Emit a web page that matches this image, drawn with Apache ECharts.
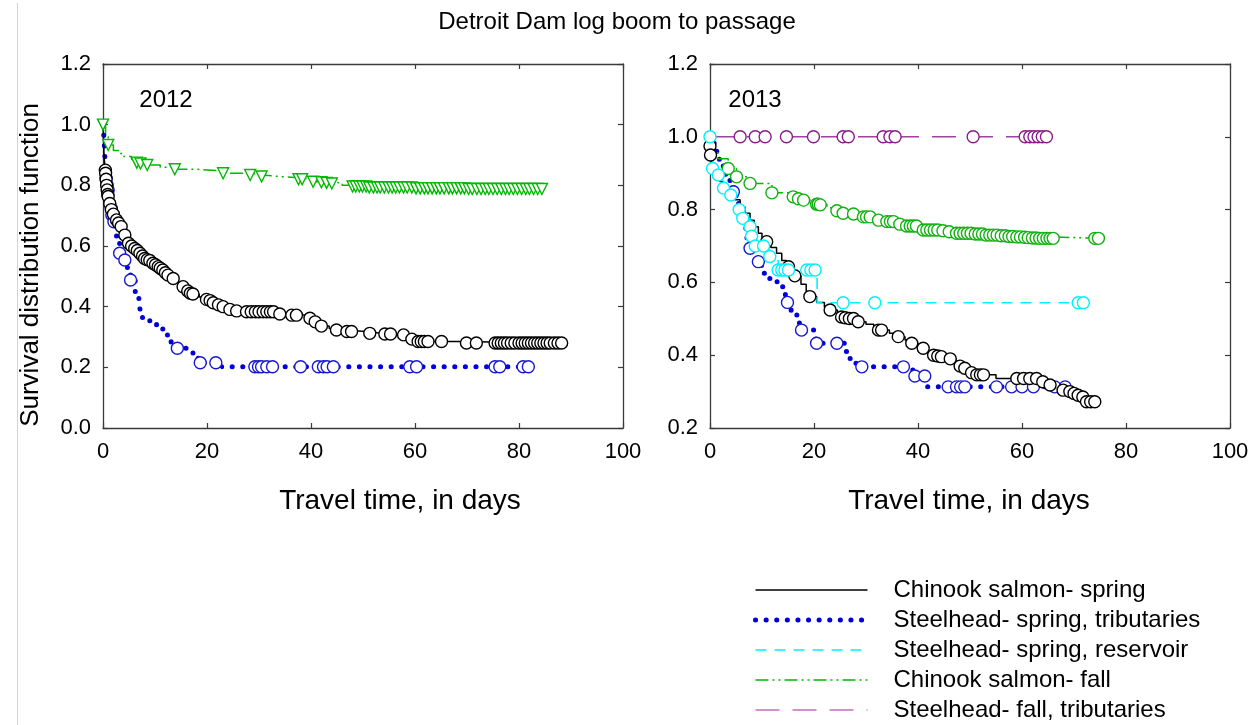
<!DOCTYPE html>
<html>
<head>
<meta charset="utf-8">
<script src="https://cdn.jsdelivr.net/npm/echarts@6/dist/echarts.min.js"></script>
<style>
html,body{margin:0;padding:0;background:#fff;}
#c{width:1259px;height:725px;}
</style>
</head>
<body>
<div id="c"></div>
<script>
// ---------- tick settings ----------
const xTicks = [0, 20, 40, 60, 80, 100];
const yTicks2012 = [0.0, 0.2, 0.4, 0.6, 0.8, 1.0, 1.2];
const yTicks2013 = [0.2, 0.4, 0.6, 0.8, 1.0, 1.2];

const seriesNames = [
  'Chinook salmon- spring',
  'Steelhead- spring, tributaries',
  'Steelhead- spring, reservoir',
  'Chinook salmon- fall',
  'Steelhead- fall, tributaries'
];

// ---------- 2012 ----------
const chs12Curve = [[0,1.0],[0.2,0.9],[0.4,0.85],[0.6,0.82],[0.8,0.79],[1.0,0.763],[1.3,0.74],[1.6,0.72],[2.2,0.70],[2.6,0.686],[3.1,0.675],[3.5,0.664],[4.0,0.645],[4.4,0.63],[4.9,0.609],[5.5,0.60],[6.1,0.592],[6.6,0.585],[7.1,0.576],[7.6,0.567],[8.0,0.559],[9.0,0.552],[9.6,0.543],[10.6,0.532],[11.5,0.521],[12.5,0.504],[13.5,0.493],[14.5,0.48],[15.4,0.466],[16.3,0.452],[17.3,0.442],[18.5,0.432],[19.6,0.424],[21.2,0.413],[22.2,0.406],[23.1,0.40],[24.4,0.391],[25.7,0.386],[27.0,0.383],[33.5,0.376],[35.5,0.372],[39.5,0.362],[40.8,0.35],[42.0,0.336],[43.5,0.328],[44.9,0.323],[46.5,0.318],[50.5,0.312],[53.5,0.31],[56.5,0.307],[59.0,0.293],[60.3,0.285],[68.0,0.28],[88.2,0.28]];
const chs12Cens = [[0.45,0.85],[0.5,0.84],[0.6,0.82],[0.7,0.80],[0.8,0.785],[0.9,0.77],[1.0,0.763],[1.3,0.74],[1.6,0.72],[2.0,0.705],[2.6,0.686],[3.0,0.676],[3.5,0.664],[4.2,0.636],[4.9,0.609],[5.5,0.60],[6.1,0.592],[6.6,0.585],[7.1,0.576],[7.6,0.567],[8.0,0.559],[8.5,0.555],[9.0,0.552],[9.6,0.543],[10.1,0.538],[10.6,0.532],[11.0,0.527],[11.5,0.521],[12.0,0.512],[12.5,0.504],[13.5,0.493],[15.4,0.466],[16.3,0.452],[16.8,0.444],[17.3,0.442],[19.9,0.424],[20.6,0.42],[21.2,0.413],[22.2,0.406],[23.1,0.40],[24.4,0.391],[25.7,0.386],[27.6,0.383],[28.5,0.383],[29.3,0.383],[30.0,0.383],[30.8,0.383],[31.5,0.383],[32.2,0.383],[32.8,0.383],[34.0,0.376],[36.3,0.372],[37.2,0.372],[39.8,0.362],[40.8,0.35],[42.0,0.336],[44.9,0.323],[46.9,0.318],[47.8,0.318],[51.3,0.312],[54.2,0.31],[55.3,0.31],[57.8,0.307],[59.4,0.293],[60.6,0.285],[61.2,0.285],[61.8,0.285],[62.5,0.285],[65.1,0.285],[69.9,0.28],[71.8,0.28],[75.4,0.28],[76.0,0.28],[76.6,0.28],[77.2,0.28],[77.8,0.28],[78.5,0.28],[79.2,0.28],[80.0,0.28],[80.6,0.28],[81.2,0.28],[81.8,0.28],[82.4,0.28],[83.0,0.28],[83.6,0.28],[84.2,0.28],[84.8,0.28],[85.4,0.28],[86.0,0.28],[86.8,0.28],[87.5,0.28],[88.2,0.28]];

const sst12Curve = [[0,1.0],[0.2,0.95],[0.4,0.88],[0.6,0.823],[0.8,0.80],[1.0,0.785],[1.3,0.75],[1.6,0.724],[1.7,0.702],[2.1,0.68],[2.6,0.625],[3.2,0.576],[4.2,0.554],[4.7,0.52],[5.3,0.488],[6.2,0.44],[6.9,0.413],[7.2,0.383],[7.6,0.358],[9.0,0.347],[10.3,0.332],[11.5,0.318],[12.4,0.296],[13.1,0.279],[14.3,0.263],[16.0,0.259],[17.3,0.246],[18.3,0.215],[22.8,0.202],[81.8,0.202]];
const sst12Cens = [[0.6,0.823],[0.8,0.80],[1.0,0.785],[1.6,0.724],[1.7,0.702],[2.1,0.68],[3.2,0.576],[4.2,0.554],[5.3,0.488],[14.3,0.263],[18.7,0.215],[21.7,0.215],[29.2,0.202],[29.9,0.202],[30.5,0.202],[31.5,0.202],[32.6,0.202],[38.0,0.202],[41.4,0.202],[42.4,0.202],[43.1,0.202],[44.3,0.202],[59.0,0.202],[60.3,0.202],[75.4,0.202],[76.3,0.202],[80.8,0.202],[81.8,0.202]];

const chf12Curve = [[0,1.0],[0.5,0.96],[1.0,0.933],[2,0.915],[3,0.905],[4,0.895],[5.5,0.885],[6.5,0.875],[8.5,0.867],[11,0.86],[13.8,0.853],[18,0.848],[23.1,0.84],[28.3,0.834],[30.5,0.829],[34,0.825],[37.6,0.82],[40.4,0.812],[43,0.808],[46,0.80],[48,0.796],[55,0.793],[65,0.79],[84.4,0.788]];
const chf12Cens = [[0,1.0],[1.0,0.933],[6.5,0.875],[7.2,0.872],[8.5,0.867],[13.8,0.853],[23.1,0.84],[28.3,0.834],[30.5,0.829],[37.6,0.82],[38.3,0.82],[40.4,0.812],[42.0,0.81],[43.0,0.808],[44.0,0.806],[48.0,0.796],[48.6,0.796],[49.3,0.796],[49.9,0.796],[50.6,0.796],[51.2,0.793],[52.0,0.793],[52.7,0.793],[53.3,0.793],[54.1,0.793],[54.9,0.793],[55.6,0.793],[56.3,0.793],[57.0,0.793],[57.8,0.793],[58.5,0.793],[59.4,0.793],[60.2,0.79],[61.0,0.79],[61.8,0.79],[62.5,0.79],[63.3,0.79],[64.1,0.79],[64.8,0.79],[65.6,0.79],[66.5,0.79],[67.2,0.79],[68.0,0.79],[68.8,0.79],[69.5,0.79],[70.3,0.788],[71.0,0.788],[71.9,0.788],[72.7,0.788],[73.5,0.788],[74.2,0.788],[75.0,0.788],[75.8,0.788],[76.6,0.788],[77.4,0.788],[78.1,0.788],[78.9,0.788],[79.7,0.788],[80.5,0.788],[81.3,0.788],[82.0,0.788],[82.8,0.788],[83.6,0.788],[84.4,0.788]];

// ---------- 2013 ----------
const chs13Curve = [[0,1.0],[0.05,0.975],[0.15,0.95],[0.5,0.92],[1,0.89],[1.9,0.877],[2.5,0.87],[3.2,0.863],[4.0,0.845],[4.8,0.827],[5.8,0.808],[6.7,0.79],[7.7,0.771],[8.5,0.753],[9.3,0.735],[10.0,0.722],[10.6,0.712],[11.7,0.696],[12.8,0.68],[13.8,0.66],[14.7,0.643],[15.4,0.635],[16.3,0.618],[17.5,0.595],[18.5,0.575],[19.2,0.561],[20.5,0.545],[22,0.532],[23.1,0.524],[24.5,0.51],[25.3,0.505],[27.6,0.501],[28.5,0.492],[30,0.485],[31.5,0.475],[32.4,0.469],[34.5,0.46],[36.2,0.451],[37.5,0.442],[38.8,0.433],[40,0.425],[41,0.419],[42,0.41],[43,0.40],[44,0.396],[46.2,0.39],[47.3,0.38],[48.1,0.37],[49,0.364],[50.3,0.352],[51.3,0.346],[55,0.336],[64.0,0.327],[65.4,0.318],[67.9,0.304],[69.2,0.30],[70.0,0.295],[70.8,0.29],[71.7,0.285],[72.4,0.272],[74,0.272]];
const chs13Cens = [[0,0.975],[0.1,0.95],[10.9,0.712],[15.1,0.643],[16.3,0.618],[19.2,0.561],[23.1,0.524],[25.3,0.505],[26.0,0.503],[26.8,0.501],[27.6,0.501],[28.5,0.492],[32.4,0.469],[33.0,0.469],[36.2,0.451],[38.8,0.433],[41.0,0.419],[43.0,0.40],[43.8,0.398],[44.5,0.396],[46.2,0.39],[48.1,0.37],[49.0,0.364],[50.3,0.352],[51.3,0.346],[52.0,0.346],[52.6,0.346],[59.0,0.336],[60.3,0.336],[61.5,0.336],[62.8,0.336],[64.0,0.327],[65.4,0.318],[67.9,0.304],[69.2,0.30],[70.0,0.295],[70.8,0.29],[71.7,0.285],[72.4,0.272],[73.2,0.272],[74.0,0.272]];

const sst13Curve = [[0,1.0],[0.8,0.96],[1.8,0.92],[3.0,0.88],[4.5,0.849],[5.0,0.825],[5.5,0.80],[6.0,0.775],[6.5,0.749],[7.1,0.72],[7.7,0.694],[9.3,0.657],[9.9,0.625],[11.0,0.611],[12.9,0.60],[13.8,0.588],[14.5,0.565],[14.9,0.545],[15.6,0.517],[16.7,0.508],[17.2,0.48],[17.6,0.469],[20.2,0.45],[20.5,0.433],[26.0,0.41],[26.9,0.391],[27.9,0.378],[29.0,0.368],[39.0,0.343],[41.7,0.313],[68.3,0.313]];
const sst13Cens = [[4.5,0.849],[7.7,0.694],[9.3,0.657],[14.9,0.545],[17.6,0.469],[20.5,0.433],[24.4,0.433],[29.2,0.368],[37.2,0.368],[39.4,0.343],[41.3,0.343],[45.8,0.313],[47.4,0.313],[48.2,0.313],[49.0,0.313],[55.1,0.313],[58.0,0.313],[60.0,0.313],[62.2,0.313],[66.3,0.313],[68.3,0.313]];

const ssr13Curve = [[0,1.0],[0.5,0.913],[1.6,0.895],[2.6,0.859],[4.0,0.84],[5.6,0.80],[6.3,0.776],[7.7,0.753],[8.0,0.727],[8.7,0.70],[11.5,0.671],[13.1,0.634],[20.6,0.544],[71.8,0.544]];
const ssr13Cens = [[0,1.0],[0.5,0.913],[1.6,0.895],[2.6,0.859],[4.0,0.84],[5.6,0.80],[6.3,0.776],[7.7,0.753],[8.0,0.727],[8.7,0.70],[10.3,0.70],[11.5,0.671],[13.1,0.634],[13.8,0.634],[14.4,0.634],[15.1,0.634],[18.6,0.634],[19.4,0.634],[20.2,0.634],[25.6,0.544],[31.7,0.544],[70.8,0.544],[71.8,0.544]];

const chf13Curve = [[0,1.0],[0.5,0.96],[1.5,0.94],[3.5,0.913],[5.1,0.89],[7.7,0.872],[11.9,0.846],[16,0.835],[18,0.826],[20.5,0.815],[22.5,0.805],[24.4,0.797],[25.6,0.79],[28.5,0.785],[30,0.78],[32.4,0.771],[34,0.767],[37.8,0.755],[41,0.744],[45,0.739],[47.4,0.735],[54,0.73],[60,0.725],[66,0.721],[74.7,0.721]];
const chf13Cens = [[3.5,0.913],[5.1,0.89],[7.7,0.872],[11.9,0.846],[16.0,0.835],[17.0,0.83],[18.0,0.826],[20.5,0.815],[20.8,0.815],[21.2,0.813],[24.4,0.797],[25.6,0.79],[27.6,0.788],[29.5,0.78],[30.1,0.78],[30.8,0.78],[32.4,0.771],[34.0,0.767],[34.7,0.767],[35.3,0.767],[36.5,0.76],[37.8,0.755],[38.5,0.755],[39.1,0.755],[39.7,0.755],[41.0,0.744],[41.7,0.744],[42.4,0.744],[43.1,0.744],[43.8,0.744],[44.8,0.742],[46.0,0.739],[47.4,0.735],[48.1,0.735],[48.8,0.735],[49.5,0.735],[50.2,0.735],[51.0,0.733],[51.7,0.733],[52.4,0.733],[53.1,0.73],[53.8,0.73],[54.5,0.73],[55.2,0.73],[56.0,0.728],[56.8,0.728],[57.5,0.726],[58.2,0.726],[59.0,0.725],[59.7,0.725],[60.5,0.724],[61.2,0.723],[62.0,0.722],[62.7,0.722],[63.4,0.721],[64.1,0.721],[64.8,0.721],[65.4,0.721],[66.0,0.721],[74.0,0.721],[74.7,0.721]];

const sft13Curve = [[0,1.0],[64.7,1.0]];
const sft13Cens = [[5.8,1.0],[8.7,1.0],[10.6,1.0],[14.7,1.0],[19.9,1.0],[25.6,1.0],[26.6,1.0],[33.3,1.0],[34.6,1.0],[35.6,1.0],[50.6,1.0],[60.6,1.0],[61.5,1.0],[62.3,1.0],[63.1,1.0],[63.9,1.0],[64.7,1.0]];

// ---------- styles ----------
const FONT = '"Liberation Sans", Arial, sans-serif';
const C = {
  black: '#000000', blue: '#0000d8', cyan: '#00f0ff', green: '#00b800', purple: '#a040a0'
};
const LS = {
  black: {color: C.black, width: 1.5, type: 'solid'},
  blue: {color: C.blue, width: 5, type: [0.1, 10.5], cap: 'round'},
  cyan: {color: C.cyan, width: 1.6, type: [11, 8]},
  green: {color: C.green, width: 1.5, type: [13, 4, 2, 4, 2, 4]},
  purple: {color: C.purple, width: 1.6, type: [24, 13]}
};

function curve(name, data, g, ls, z) {
  return {
    type: 'line', name: name, xAxisIndex: g * 2, yAxisIndex: g * 2, data: data,
    step: 'end', symbol: 'none', silent: true, z: z,
    lineStyle: Object.assign({}, ls), itemStyle: {color: ls.color}
  };
}
function marks(name, data, g, color, sym, size, z) {
  return {
    type: 'scatter', name: name + ' (censored)', xAxisIndex: g * 2, yAxisIndex: g * 2, data: data,
    symbol: sym, symbolSize: size, symbolRotate: sym === 'triangle' ? 180 : 0, silent: true, z: z,
    itemStyle: {color: '#ffffff', borderColor: color, borderWidth: 1.4, opacity: 1}
  };
}

function xAx(g, pos) {
  const main = pos === 'bottom';
  return {
    type: 'value', gridIndex: g, position: pos, min: 0, max: 100, interval: 20,
    axisLine: {show: true, onZero: false, lineStyle: {color: '#3a3a3a', width: 1.3}},
    axisTick: {show: true, inside: true, length: 5, lineStyle: {color: '#3a3a3a', width: 1.2}},
    axisLabel: {show: main, fontSize: 22, color: '#000', fontFamily: FONT, margin: 13},
    splitLine: {show: false}
  };
}
function yAx(g, pos, min, max) {
  const main = pos === 'left';
  return {
    type: 'value', gridIndex: g, position: pos, min: min, max: max, interval: 0.2,
    axisLine: {show: true, onZero: false, lineStyle: {color: '#3a3a3a', width: 1.3}},
    axisTick: {show: true, inside: true, length: 5, lineStyle: {color: '#3a3a3a', width: 1.2}},
    axisLabel: {show: main, fontSize: 22, color: '#000', fontFamily: FONT, margin: 12,
      formatter: v => v.toFixed(1)},
    splitLine: {show: false}
  };
}

const series = [
  curve(seriesNames[3], chf12Curve, 0, LS.green, 2),
  curve(seriesNames[1], sst12Curve, 0, LS.blue, 2),
  curve(seriesNames[0], chs12Curve, 0, LS.black, 3),
  marks(seriesNames[3], chf12Cens, 0, C.green, 'triangle', 11, 4),
  marks(seriesNames[1], sst12Cens, 0, '#1818d0', 'circle', 12, 4),
  marks(seriesNames[0], chs12Cens, 0, C.black, 'circle', 12, 5),
  curve(seriesNames[1], sst13Curve, 1, LS.blue, 2),
  curve(seriesNames[0], chs13Curve, 1, LS.black, 3),
  curve(seriesNames[3], chf13Curve, 1, LS.green, 3),
  curve(seriesNames[2], ssr13Curve, 1, LS.cyan, 3),
  curve(seriesNames[4], sft13Curve, 1, LS.purple, 3),
  marks(seriesNames[1], sst13Cens, 1, '#1818d0', 'circle', 12, 4),
  marks(seriesNames[0], chs13Cens, 1, C.black, 'circle', 12, 5),
  marks(seriesNames[3], chf13Cens, 1, '#10b010', 'circle', 12, 5),
  marks(seriesNames[2], ssr13Cens, 1, C.cyan, 'circle', 12, 6),
  marks(seriesNames[4], sft13Cens, 1, '#8a1a8a', 'circle', 12, 6)
];

const legendStyles = [LS.black, LS.blue, LS.cyan, LS.green, {color: '#c070c0', width: 1.6, type: [24, 13]}];

function label(text, x, y, size, rot) {
  return {type: 'text', x: x, y: y, rotation: rot || 0,
    style: {text: text, font: size + 'px ' + FONT, fill: '#000', textAlign: 'center', textVerticalAlign: 'middle'}};
}

const option = {
  animation: false,
  backgroundColor: '#ffffff',
  grid: [
    {left: 103, top: 64, width: 520, height: 364},
    {left: 710, top: 64, width: 520, height: 364}
  ],
  xAxis: [xAx(0, 'bottom'), xAx(0, 'top'), xAx(1, 'bottom'), xAx(1, 'top')],
  yAxis: [yAx(0, 'left', 0, 1.2), yAx(0, 'right', 0, 1.2),
          yAx(1, 'left', 0.2, 1.2), yAx(1, 'right', 0.2, 1.2)],
  legend: {
    orient: 'vertical', left: 748, top: 573, height: 160, itemWidth: 112, itemHeight: 14, itemGap: 6,
    selectedMode: false,
    textStyle: {fontSize: 24, lineHeight: 24, color: '#000', fontFamily: FONT, padding: [0, 0, 0, 21]},
    data: seriesNames.map((n, i) => ({
      name: n,
      itemStyle: {color: legendStyles[i].color, opacity: 0},
      lineStyle: Object.assign({}, legendStyles[i])
    }))
  },
  graphic: [
    {type: 'line', shape: {x1: 17.5, y1: 3, x2: 17.5, y2: 725}, style: {stroke: '#d4d4d4', lineWidth: 1}},
    label('Detroit Dam log boom to passage', 617, 22, 24),
    label('2012', 166, 100, 24),
    label('2013', 755, 100, 24),
    label('Travel time, in days', 400, 501, 28),
    label('Travel time, in days', 969, 501, 28),
    label('Survival distribution function', 31, 265, 26, Math.PI / 2)
  ],
  series: series
};

const chart = echarts.init(document.getElementById('c'), null, {renderer: 'canvas'});
chart.setOption(option);
</script>
</body>
</html>
